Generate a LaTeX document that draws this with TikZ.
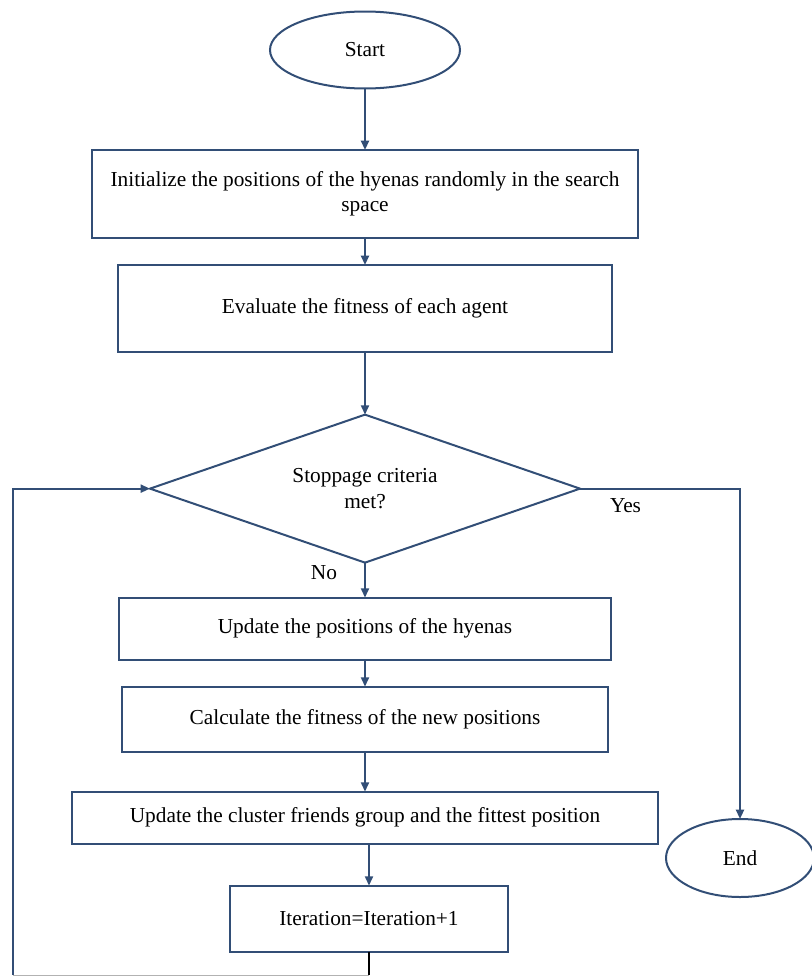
\documentclass[tikz,border=0pt]{standalone}
\usepackage{fontspec}
\setmainfont{Liberation Serif}
\usetikzlibrary{arrows.meta, positioning, shapes.geometric}
\definecolor{flowline}{RGB}{50,78,118}

\begin{document}
\begin{tikzpicture}[
		font=\fontsize{16}{19}\selectfont,
		every node/.style={align=center, inner sep=0pt, outer sep=0pt},
		box/.style={draw=flowline, line width=1.5pt, rectangle},
		term/.style={draw=flowline, line width=1.5pt, ellipse},
		cond/.style={draw=flowline, line width=1.5pt, diamond, shape aspect=2.9},
		lbl/.style={font=\fontsize{16}{19}\selectfont},
		arrow/.style={-{Triangle[length=7pt,width=6pt]}, draw=flowline, line width=1.5pt}
		]
		\useasboundingbox (0,0) rectangle (608.25pt,-733.5pt);
		
		% Start
		\node (start) [term, minimum width=142.5pt, minimum height=57.75pt] at (273.75pt,-37.5pt) {Start};
		
		% Initialisation
		\node (init) [box, below=46.1pt of start, minimum width=410pt, minimum height=66pt] {Initialize the positions of the hyenas randomly in the search\\space};
		\node (eval) [box, below=20.25pt of init, minimum width=370.5pt, minimum height=65pt] {Evaluate the fitness of each agent};
		
		% Stopping test
		\node (stop) [cond, below=47.25pt of eval, minimum width=322.5pt, minimum height=111pt] {Stoppage criteria\\met?};
		
		% Loop body
		\node (upd) [box, below=26.25pt of stop, minimum width=369pt, minimum height=46.5pt] {Update the positions of the hyenas};
		\node (calc) [box, below=20.25pt of upd, minimum width=365pt, minimum height=48.75pt] {Calculate the fitness of the new positions};
		\node (clus) [box, below=30pt of calc, minimum width=439pt, minimum height=39pt] {Update the cluster friends group and the fittest position};
		\node (iter) [box, below=31.5pt of clus, xshift=3pt, minimum width=208.5pt, minimum height=49.5pt] {Iteration=Iteration+1};
		
		% End
		\node (end) [term, minimum width=111pt, minimum height=58.5pt] at (555pt,-643.5pt) {End};
		
		% Branch labels
		\node (yes) [lbl, below right=7.5pt and 22.5pt of stop.east] {Yes};
		\node (no) [lbl, below left=2pt and 21pt of stop.south] {No};
		
		% Loop corners
		\coordinate (loopr) at (iter.south |- 0,-731.25pt);
		\coordinate (loopl) at (9.75pt,-731.25pt);
		
		% Arrows
		\draw[arrow] (start) -- (init);
		\draw[arrow] (init) -- (eval);
		\draw[arrow] (eval) -- (stop);
		\draw[arrow] (stop) -- (upd);
		\draw[arrow] (upd) -- (calc);
		\draw[arrow] (calc) -- (clus);
		\draw[arrow] (clus.south -| iter.north) -- (iter);
		\draw[arrow] (stop.east) -| (end);
		
		\draw[line width=1.5pt] (iter.south) -- (loopr);
		\draw[gray!60, line width=0.6pt] (loopr) -- (loopl);
		\draw[arrow] (loopl) |- (stop.west);
		
	\end{tikzpicture}
\end{document}
